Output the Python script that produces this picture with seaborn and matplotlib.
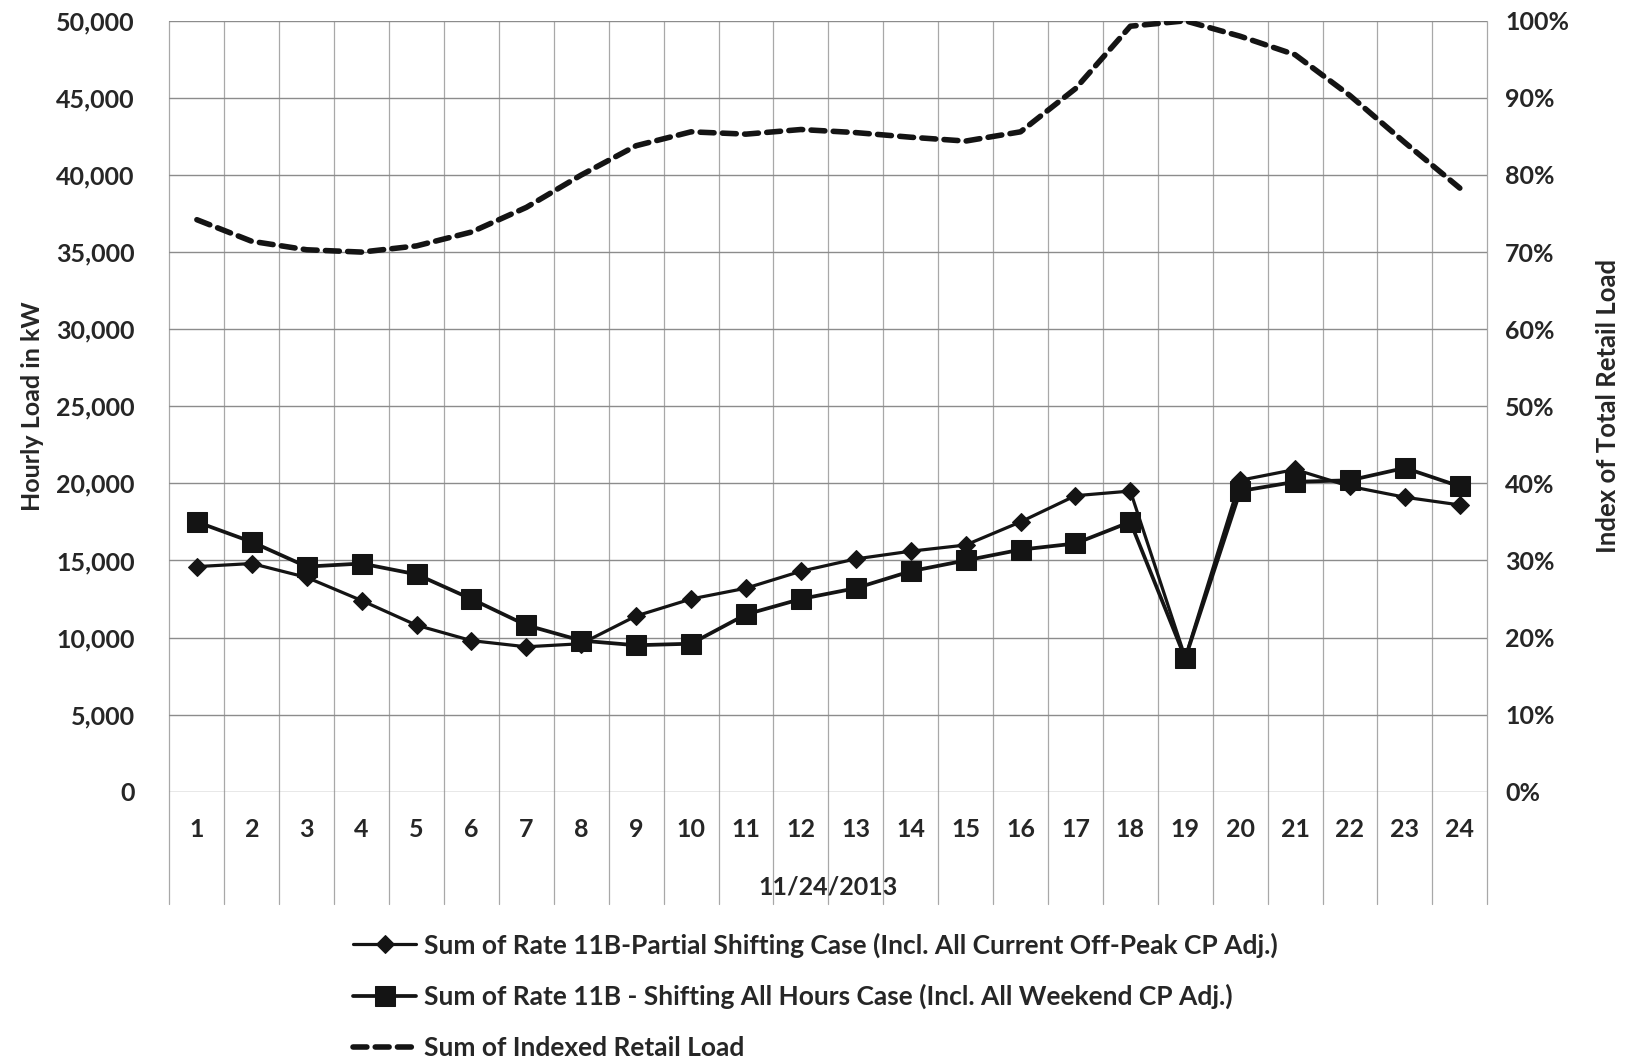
import matplotlib
matplotlib.use("Agg")
import matplotlib.pyplot as plt
import seaborn as sns
import pandas as pd
from matplotlib import font_manager
from matplotlib.ticker import FuncFormatter, MultipleLocator

# ---- data ----
hours = list(range(1, 25))
partial_shift = [14600, 14800, 13900, 12400, 10800, 9800, 9400, 9600, 11400, 12500,
                 13200, 14300, 15100, 15600, 16000, 17500, 19200, 19500, 8700, 20200,
                 20900, 19800, 19100, 18600]
all_hours_shift = [17500, 16200, 14600, 14800, 14100, 12500, 10800, 9800, 9500, 9600,
                   11500, 12500, 13200, 14300, 15000, 15700, 16100, 17500, 8650, 19500,
                   20100, 20200, 21000, 19800]
indexed_load = [74.2, 71.4, 70.3, 70.0, 70.8, 72.6, 75.8, 80.0, 83.8, 85.6, 85.3, 85.9,
                85.5, 84.9, 84.4, 85.6, 91.2, 99.3, 100.0, 98.0, 95.6, 90.3, 84.2, 78.3]

label_partial = "Sum of Rate 11B-Partial Shifting Case (Incl. All Current Off-Peak CP Adj.)"
label_all = "Sum of Rate 11B - Shifting All Hours Case (Incl. All Weekend CP Adj.)"
label_idx = "Sum of Indexed Retail Load"
x_title = "11/24/2013"
y_title = "Hourly Load in kW"
y2_title = "Index of Total Retail Load"

df = pd.DataFrame({"hour": hours, "partial": partial_shift,
                   "allh": all_hours_shift, "idx": indexed_load})

sns.set_theme(style="white")
# pick a family that really has a bold face
fam = "Lato"
lato_weights = [f.weight for f in font_manager.fontManager.ttflist if f.name == "Lato"]
def _w(w):
    try:
        return int(w)
    except Exception:
        return {"bold": 700, "heavy": 800, "black": 900, "semibold": 600}.get(str(w), 400)
if not any(_w(w) >= 700 for w in lato_weights):
    fam = "Open Sans"
plt.rcParams["font.family"] = [fam, "DejaVu Sans"]
plt.rcParams["font.weight"] = "bold"

FS = 18
fig = plt.figure(figsize=(16.29, 10.62), dpi=100)
ax = fig.add_axes([0.104, 0.2545, 0.809, 0.7259])
ax2 = ax.twinx()

ink = "#141414"
sns.lineplot(data=df, x="hour", y="partial", ax=ax, color=ink, lw=2.3,
             marker="D", markersize=9, mfc=ink, mec=ink, label=label_partial)
sns.lineplot(data=df, x="hour", y="allh", ax=ax, color=ink, lw=2.7,
             marker="s", markersize=14, mfc=ink, mec=ink, label=label_all)
sns.lineplot(data=df, x="hour", y="idx", ax=ax2, color=ink, lw=4.0,
             label=label_idx, dashes=False)
ax2.lines[0].set_dashes([2.5, 1.5])
ax2.lines[0].set_dash_capstyle("round")

# axes ranges
ax.set_xlim(0.5, 24.5)
ax.set_ylim(0, 50000)
ax2.set_ylim(0, 100)
ax.set_xticks(hours)
ax.set_xticklabels([str(h) for h in hours])
ax.yaxis.set_major_locator(MultipleLocator(5000))
ax.yaxis.set_major_formatter(FuncFormatter(lambda v, p: f"{int(v):,}"))
ax2.yaxis.set_major_locator(MultipleLocator(10))
ax2.yaxis.set_major_formatter(FuncFormatter(lambda v, p: f"{int(v)}%"))

for a in (ax, ax2):
    for s in a.spines.values():
        s.set_visible(False)
ax.tick_params(axis="x", length=0, pad=19, labelsize=FS)
ax.tick_params(axis="y", length=0, pad=25, labelsize=FS)
ax2.tick_params(axis="y", length=0, pad=13, labelsize=FS)
for lab in ax.get_xticklabels() + ax.get_yticklabels() + ax2.get_yticklabels():
    lab.set_fontweight("bold")

# gridlines (Excel style)
ax.yaxis.grid(True, color="#8c8c8c", lw=1.0)
ax.set_axisbelow(True)
for i in range(25):
    ax.axvline(i + 0.5, ymin=-0.146, ymax=1, color="#a8a8a8", lw=0.9,
               clip_on=False, zorder=0)

ax.set_xlabel(x_title, fontsize=FS, fontweight="bold", labelpad=25)
ax.set_ylabel(y_title, fontsize=18, fontweight="bold", labelpad=9)
ax2.set_ylabel(y2_title, fontsize=18.5, fontweight="bold", labelpad=19)

# legend
h1, l1 = ax.get_legend_handles_labels()
h2, l2 = ax2.get_legend_handles_labels()
for a in (ax, ax2):
    if a.get_legend() is not None:
        a.get_legend().remove()
leg = fig.legend(h1 + h2, l1 + l2, loc="center left",
                 bbox_to_anchor=(0.2167, 0.062), frameon=False, ncol=1,
                 fontsize=19, handlelength=2.4, handletextpad=0.3,
                 labelspacing=1.0, borderpad=0, borderaxespad=0)
for t in leg.get_texts():
    t.set_fontweight("bold")

fig.savefig("out.png", dpi=100)
